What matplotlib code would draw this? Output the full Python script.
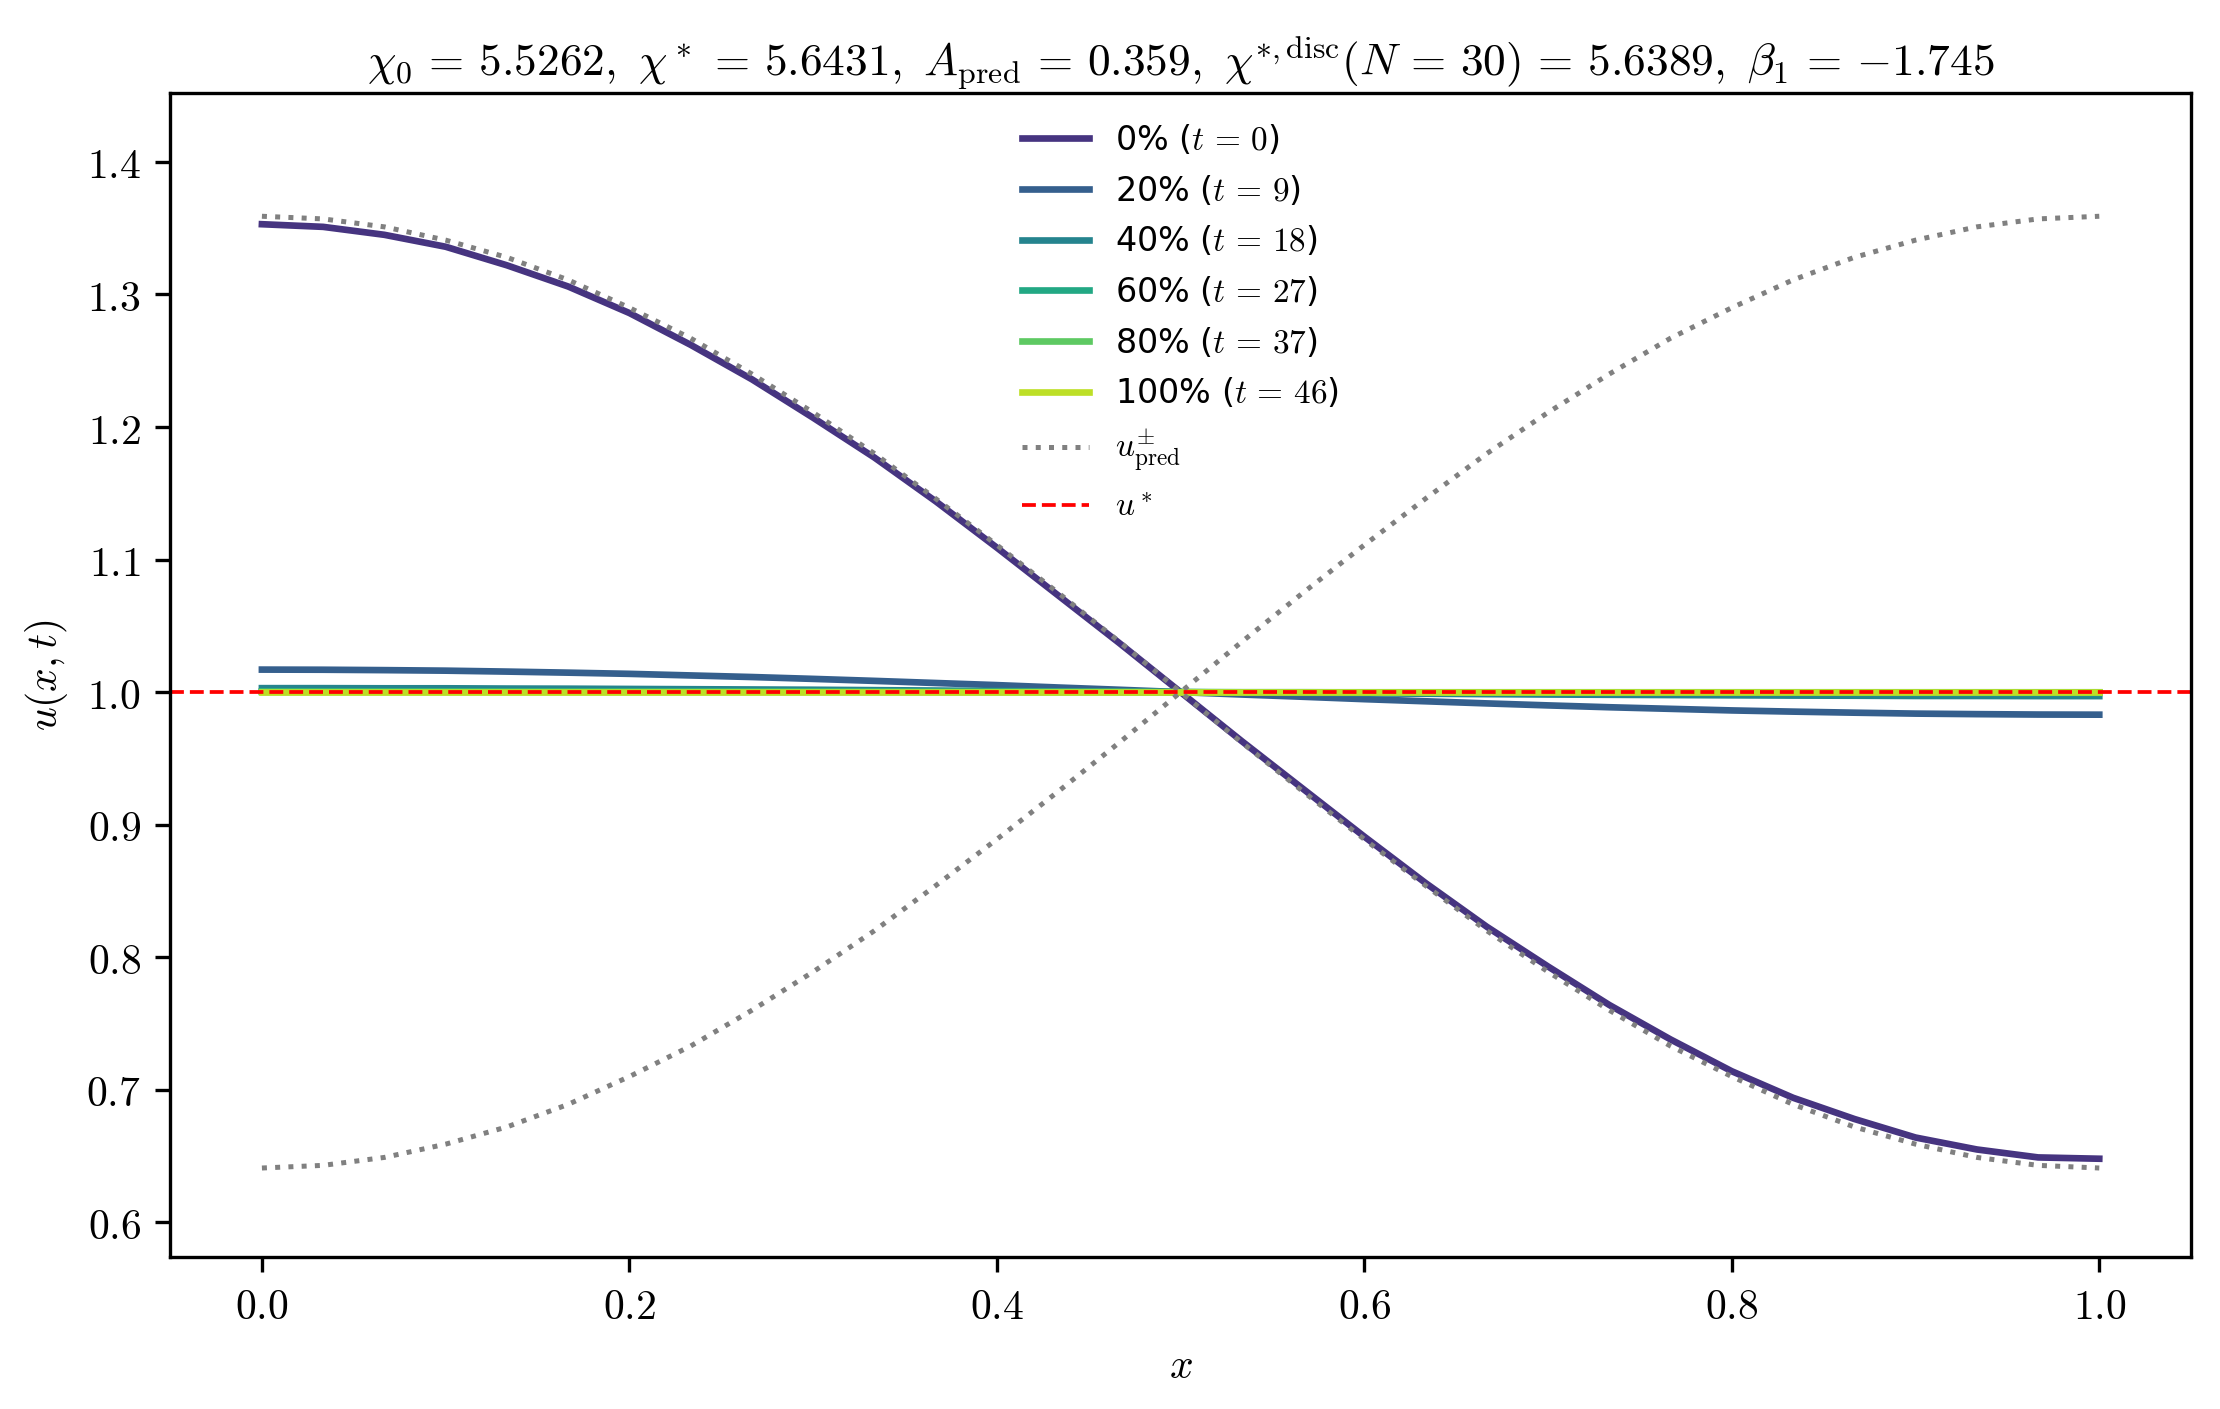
import numpy as np
import matplotlib
matplotlib.use("Agg")
import matplotlib.pyplot as plt
from matplotlib.ticker import FormatStrFormatter

plt.rcParams['mathtext.fontset'] = 'cm'

# grid N = 30 -> 31 points
x = np.linspace(0, 1, 31)

snap_labels = [r'0% ($t\,=\,0$)', r'20% ($t\,=\,9$)', r'40% ($t\,=\,18$)',
               r'60% ($t\,=\,27$)', r'80% ($t\,=\,37$)', r'100% ($t\,=\,46$)']

u_0 = [1.353, 1.351, 1.345, 1.336, 1.322, 1.306, 1.286, 1.262, 1.236, 1.207, 1.177,
       1.144, 1.109, 1.073, 1.037, 1.000, 0.963, 0.927, 0.891, 0.856, 0.823,
       0.793, 0.764, 0.738, 0.714, 0.694, 0.678, 0.664, 0.655, 0.649, 0.648]
u_20 = [1.0170, 1.0169, 1.0166, 1.0162, 1.0155, 1.0147, 1.0138, 1.0126, 1.0114, 1.0100, 1.0085,
        1.0069, 1.0053, 1.0035, 1.0018, 1.0000, 0.9982, 0.9965, 0.9947, 0.9931, 0.9915,
        0.9900, 0.9886, 0.9874, 0.9862, 0.9853, 0.9845, 0.9838, 0.9834, 0.9831, 0.9830]
u_40 = [1.0030, 1.0030, 1.0029, 1.0029, 1.0027, 1.0026, 1.0024, 1.0022, 1.0020, 1.0018, 1.0015,
        1.0012, 1.0009, 1.0006, 1.0003, 1.0000, 0.9997, 0.9994, 0.9991, 0.9988, 0.9985,
        0.9982, 0.9980, 0.9978, 0.9976, 0.9974, 0.9973, 0.9971, 0.9971, 0.9970, 0.9970]
u_60 = [1.0006, 1.0006, 1.0006, 1.0006, 1.0005, 1.0005, 1.0005, 1.0004, 1.0004, 1.0004, 1.0003,
        1.0002, 1.0002, 1.0001, 1.0001, 1.0000, 0.9999, 0.9999, 0.9998, 0.9998, 0.9997,
        0.9996, 0.9996, 0.9996, 0.9995, 0.9995, 0.9995, 0.9994, 0.9994, 0.9994, 0.9994]
u_80 = [1.0001] * 15 + [1.0000] + [0.9999] * 15
u_100 = [1.0000] * 31
snapshots = [u_0, u_20, u_40, u_60, u_80, u_100]

u_pred_plus = [1.359, 1.357, 1.351, 1.341, 1.328, 1.311, 1.290, 1.267, 1.240, 1.211, 1.180,
               1.146, 1.111, 1.075, 1.038, 1.000, 0.962, 0.925, 0.889, 0.854, 0.820,
               0.789, 0.760, 0.733, 0.710, 0.689, 0.672, 0.659, 0.649, 0.643, 0.641]
u_pred_minus = u_pred_plus[::-1]
u_star = 1.0

colors = plt.cm.viridis(np.linspace(0.15, 0.9, len(snapshots)))

fig, ax = plt.subplots(figsize=(7.4, 4.6967), dpi=300)
fig.subplots_adjust(left=0.0766, right=0.987, top=0.934, bottom=0.108)

for u, lab, c in zip(snapshots, snap_labels, colors):
    ax.plot(x, u, color=c, lw=1.6, label=lab)

ax.plot(x, u_pred_plus, ':', color='gray', lw=1.2, label=r'$u^{\pm}_{\rm pred}$')
ax.plot(x, u_pred_minus, ':', color='gray', lw=1.2)
ax.axhline(u_star, color='red', ls='--', lw=0.9, label=r'$u^*$')

ax.set_xlim(-0.05, 1.05)
ax.set_ylim(0.574, 1.452)
ax.xaxis.set_major_formatter(FormatStrFormatter(r'$%.1f$'))
ax.yaxis.set_major_formatter(FormatStrFormatter(r'$%.1f$'))
ax.set_xlabel(r'$x$')
ax.set_ylabel(r'$u(x,t)$')
ax.set_title(r'$\chi_0\,=\,5.5262,\ \chi^*\,=\,5.6431,\ A_{\rm pred}\,=\,0.359,\ '
             r'\chi^{*,{\rm disc}}(N\,=\,30)\,=\,5.6389,\ \beta_1\,=\,{-1.745}$',
             fontsize=10.9, pad=4)
ax.legend(loc='upper center', frameon=False, fontsize=8)

fig.savefig('out.png', dpi=300)
